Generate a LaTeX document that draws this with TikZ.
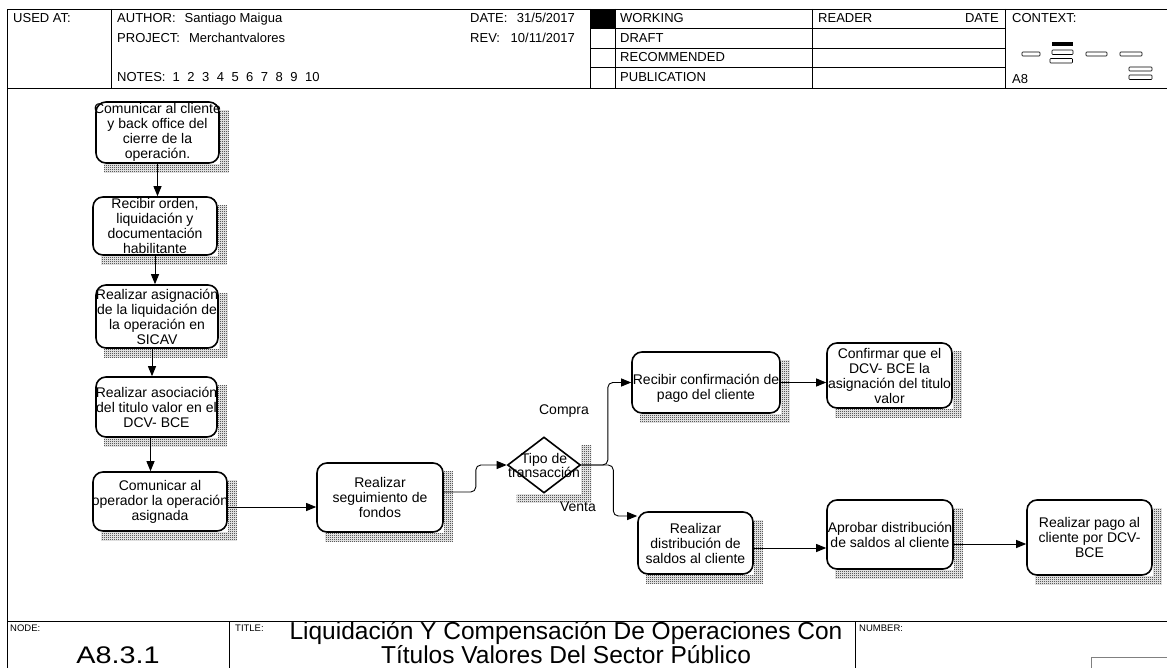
\documentclass[tikz,border=0pt]{standalone}
\usepackage{fontspec}
\setmainfont{Liberation Sans}
\usetikzlibrary{arrows.meta,calc,backgrounds,shapes.geometric,patterns}
\pgfdeclarepatternformonly{checker}{\pgfpointorigin}{\pgfqpoint{2pt}{2pt}}{\pgfqpoint{2pt}{2pt}}{%
  \pgfpathrectangle{\pgfpointorigin}{\pgfqpoint{1pt}{1pt}}%
  \pgfpathrectangle{\pgfqpoint{1pt}{1pt}}{\pgfqpoint{1pt}{1pt}}%
  \pgfusepath{fill}}
\newcommand{\setfs}[2]{\fontsize{#1}{#2}\selectfont}
\begin{document}
\begin{tikzpicture}[x=1pt,y=-1pt,
  frame/.style={line width=0.8pt, draw=black},
  hdr/.style={font=\setfs{13}{15}, inner sep=0pt, anchor=base west},
  small/.style={font=\setfs{9.5}{10}, inner sep=0pt, anchor=north west},
  box/.style={draw, line width=1.6pt, rounded corners=10pt, fill=white, align=center,
              inner xsep=-3pt, inner ysep=0pt, font=\setfs{14}{15}},
  bx/.style 2 args={minimum width=#1, minimum height=#2},
  lbl/.style={font=\setfs{14}{15}, inner sep=0pt},
  arr/.style={line width=0.9pt, -{Triangle[length=10pt,width=8pt]}, rounded corners=5pt},
  shpat/.style={pattern=checker, pattern color=black},
  ctx/.style={draw, line width=0.6pt, rounded corners=0.8pt},
]
\useasboundingbox (0,0) rectangle (1167,668);

% ---------- header frame ----------
\draw[frame] (7,668) -- (7,9) -- (1167,9);
\draw[frame] (7,88) -- (1167,88);
\foreach \x in {111,590,615,812,1005} \draw[frame] (\x,9) -- (\x,88);
\foreach \y in {28,48,67} \draw[frame] (590,\y) -- (1005,\y);
\fill (590,9) rectangle (615,28);

\node[hdr] (usedat) at (13,23) {USED AT:};
\node[hdr] (author) at (117,23) {AUTHOR:\hspace{9pt}Santiago Maigua};
\node[hdr] (project) at (117,42.5) {PROJECT:\hspace{9pt}Merchantvalores};
\node[hdr] (notes) at (117,82) {NOTES:\hspace{7pt}1\hspace{7.5pt}2\hspace{7.5pt}3\hspace{7.5pt}4\hspace{7.5pt}5\hspace{7.5pt}6\hspace{7.5pt}7\hspace{7.5pt}8\hspace{7.5pt}9\hspace{7.5pt}10};
\node[hdr] (datel) at (470,23) {DATE:};
\node[hdr, anchor=base east] (datev) at (575,23) {31/5/2017};
\node[hdr] (revl) at (470,42.5) {REV:};
\node[hdr, anchor=base east] (revv) at (575,42.5) {10/11/2017};
\node[hdr] (working) at (620,23) {WORKING};
\node[hdr] (draft) at (620,42.5) {DRAFT};
\node[hdr] (recom) at (620,62) {RECOMMENDED};
\node[hdr] (pub) at (620,82) {PUBLICATION};
\node[hdr] (reader) at (818,23) {READER};
\node[hdr, anchor=base east] (rdate) at (999,23) {DATE};
\node[hdr] (context) at (1012,23) {CONTEXT:};
\node[hdr] (a8) at (1012,84) {A8};

% context icons
\fill (1052,42) rectangle (1073,46);
\draw[ctx] (1052,50) rectangle (1073,54.5);
\draw[ctx] (1050,58.5) rectangle (1072.5,63);
\draw[ctx] (1022,52) rectangle (1040,56);
\draw[ctx] (1086,52) rectangle (1107,56);
\draw[ctx] (1120,52) rectangle (1142,56);
\draw[ctx] (1129,67) rectangle (1152,71);
\draw[ctx] (1129,75) rectangle (1152,79.5);

% ---------- footer ----------
\draw[frame] (7,621) -- (1167,621);
\draw[frame] (229,621) -- (229,668);
\draw[frame] (855,621) -- (855,668);
\draw[gray, line width=1pt] (1167,657) -- (1091,657) -- (1091,668);
\node[small] (nodel) at (10,625) {NODE:};
\node[small] (titlel) at (235,625) {TITLE:};
\node[small] (numberl) at (859,625) {NUMBER:};
\node[font=\setfs{24.5}{21}, inner sep=0pt, align=center] (title) at (566,643)
  {Liquidación Y Compensación De Operaciones Con\\Títulos Valores Del Sector Público};
\node[font=\setfs{24}{26}, inner sep=0pt] (nodeid) at (118,655) {\scalebox{1.2}[1]{A8.3.1}};

% ---------- activity boxes ----------
\node[box, bx={123pt}{61pt}] (b1) at (157.5,132.5) {Comunicar al cliente\\y back office del\\cierre de la\\operación.};
\node[box, bx={124pt}{58pt}] (b2) at (155,226) {Recibir orden,\\liquidación y\\documentación\\habilitante};
\node[box, bx={122pt}{63pt}] (b3) at (157,316.5) {Realizar asignación\\de la liquidación de\\la operación en\\SICAV};
\node[box, bx={121pt}{60pt}] (b4) at (156.5,407) {Realizar asociación\\del titulo valor en el\\DCV- BCE};
\node[box, bx={134pt}{59pt}] (b5) at (160,501.5) {Comunicar al\\operador la operación\\asignada};
\node[box, bx={126pt}{69pt}] (b6) at (380,497.5) {Realizar\\seguimiento de\\fondos};
\node[draw, diamond, line width=1.6pt, fill=white, minimum width=73pt, minimum height=56pt, inner sep=0pt] (d) at (544,465) {};
\node[lbl, align=center, font=\setfs{14}{14}] (dt) at (d.center) {Tipo de\\transacción};
\node[box, bx={148pt}{61pt}] (b8) at (706,382.5) {\rule{0pt}{22pt}Recibir confirmación de\\pago del cliente};
\node[box, bx={125pt}{65pt}] (b9) at (889.5,375.5) {Confirmar que el\\DCV- BCE la\\asignación del titulo\\valor};
\node[box, bx={115pt}{62pt}] (b10) at (695.5,543) {Realizar\\distribución de\\saldos al cliente};
\node[box, bx={126pt}{69pt}] (b11) at (890,534.5) {Aprobar distribución\\de saldos al cliente};
\node[box, bx={125pt}{75pt}] (b12) at (1089.5,537.5) {Realizar pago al\\cliente por DCV-\\BCE};

\node[lbl] (compra) at (564,411) {Compra};
\node[lbl] (venta) at (578,507) {Venta};

% ---------- shadows ----------
\begin{scope}[on background layer]
  \foreach \nm in {b1,b2,b3,b4,b5,b6,b8,b9,b10,b11,b12} {
    \fill[shpat] ($(\nm.south west)+(9,9)$) rectangle ($(\nm.north east)+(9,9)$);
    \fill[white] (\nm.south west) rectangle (\nm.north east);
  }
  \fill[shpat] ($(d.west |- d.north)+(10,9)$) rectangle ($(d.east |- d.south)+(10,9)$);
  \fill[white] (d.west |- d.north) rectangle (d.east |- d.south);
\end{scope}

% ---------- connectors ----------
\draw[arr] (b1.south) -- (b1.south |- b2.north);
\draw[arr] (b2.south) -- (b2.south |- b3.north);
\draw[arr] ([xshift=-5pt]b3.south) -- ([xshift=-5pt]b3.south |- b4.north);
\draw[arr] ([xshift=-6pt]b4.south) -- ([xshift=-6pt]b4.south |- b5.north);
\draw[arr] ([yshift=-5.5pt]b5.east) -- ([yshift=-5.5pt]b5.east -| b6.west);
\draw[arr] ([yshift=5.5pt]b6.east) -- ++(32,0) |- (d.west);
\draw[arr] (d.east) -- ++(26.5,0) |- (b8.west);
\draw[arr] (d.east) -- ++(32,0) |- ([yshift=27pt]b10.west);
\draw[arr] (b8.east) -- (b8.east -| b9.west);
\draw[arr] ([yshift=-5pt]b10.east) -- ([yshift=-5pt]b10.east -| b11.west);
\draw[arr] ([yshift=-9.5pt]b11.east) -- ([yshift=-9.5pt]b11.east -| b12.west);
\end{tikzpicture}
\end{document}
